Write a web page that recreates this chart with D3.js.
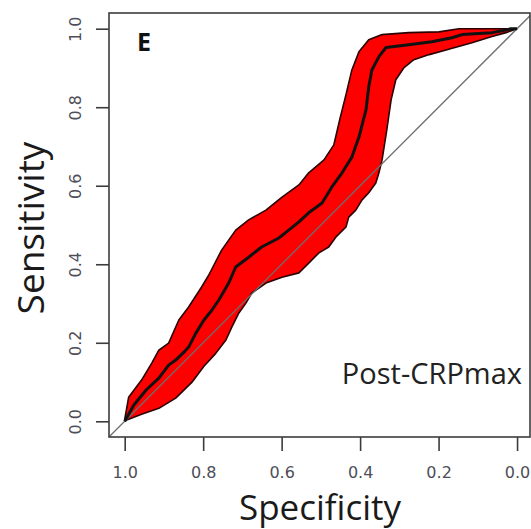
<!DOCTYPE html>
<html>
<head>
<meta charset="utf-8">
<script src="https://cdn.jsdelivr.net/npm/d3@7"></script>
<style>
  html, body { margin: 0; padding: 0; background: #fff; }
  svg { display: block; }
</style>
</head>
<body>
<svg id="chart" width="531" height="529"></svg>
<script>
// ---- Data ----
const rocSpec = [1, 0.997, 0.977, 0.946, 0.913, 0.888, 0.870, 0.849, 0.837, 0.819, 0.798, 0.778, 0.760, 0.735, 0.717, 0.684, 0.651, 0.607, 0.582, 0.556, 0.531, 0.497, 0.472, 0.446, 0.421, 0.403, 0.385, 0.378, 0.370, 0.352, 0.334, 0.276, 0.217, 0.166, 0.140, 0.064, 0.038, 0.015, 0];
const rocSens = [0, 0.005, 0.041, 0.079, 0.110, 0.143, 0.156, 0.176, 0.189, 0.224, 0.258, 0.283, 0.309, 0.352, 0.393, 0.418, 0.444, 0.467, 0.487, 0.508, 0.531, 0.556, 0.597, 0.633, 0.673, 0.724, 0.793, 0.852, 0.895, 0.929, 0.952, 0.959, 0.967, 0.977, 0.985, 0.990, 0.995, 1, 1];

const ciUpperSpec = [1, 0.990, 0.957, 0.931, 0.913, 0.888, 0.862, 0.837, 0.804, 0.786, 0.753, 0.717, 0.684, 0.640, 0.599, 0.556, 0.531, 0.492, 0.467, 0.452, 0.436, 0.421, 0.403, 0.378, 0.344, 0.276, 0.199, 0.148, 0.046, 0];
const ciUpperSens = [0.005, 0.061, 0.105, 0.148, 0.181, 0.199, 0.258, 0.291, 0.342, 0.372, 0.436, 0.487, 0.513, 0.538, 0.571, 0.602, 0.633, 0.666, 0.704, 0.768, 0.832, 0.895, 0.941, 0.972, 0.985, 0.990, 0.992, 1, 1, 1];

const ciLowerSpec = [1, 0.995, 0.957, 0.913, 0.870, 0.829, 0.798, 0.768, 0.742, 0.727, 0.709, 0.691, 0.676, 0.640, 0.599, 0.556, 0.531, 0.505, 0.480, 0.462, 0.436, 0.429, 0.411, 0.395, 0.378, 0.360, 0.352, 0.344, 0.332, 0.321, 0.309, 0.288, 0.263, 0.224, 0.181, 0.115, 0.064, 0.028, 0];
const ciLowerSens = [0, 0.003, 0.018, 0.033, 0.059, 0.099, 0.140, 0.173, 0.207, 0.240, 0.276, 0.301, 0.327, 0.352, 0.367, 0.378, 0.403, 0.429, 0.444, 0.469, 0.495, 0.520, 0.538, 0.564, 0.582, 0.607, 0.633, 0.666, 0.742, 0.819, 0.870, 0.901, 0.921, 0.934, 0.946, 0.964, 0.980, 0.990, 1];

const xTicks = [1.0, 0.8, 0.6, 0.4, 0.2, 0.0];
const yTicks = [0.0, 0.2, 0.4, 0.6, 0.8, 1.0];
const xTitle = "Specificity";
const yTitle = "Sensitivity";
const panelLabel = "E";
const markerLabel = "Post-CRPmax";

// ---- Layout ----
const svg = d3.select("#chart");
const box = { left: 109, right: 530, top: 13, bottom: 437 };

const x = d3.scaleLinear().domain([1.04, -0.033]).range([box.left, box.right]);
const y = d3.scaleLinear().domain([-0.04, 1.04]).range([box.bottom, box.top]);

svg.append("defs").append("clipPath").attr("id", "plotclip")
  .append("rect")
  .attr("x", box.left).attr("y", box.top)
  .attr("width", box.right - box.left).attr("height", box.bottom - box.top);

const plot = svg.append("g").attr("clip-path", "url(#plotclip)");

// Confidence band polygon
const upper = ciUpperSpec.map((s, i) => [s, ciUpperSens[i]]);
const lower = ciLowerSpec.map((s, i) => [s, ciLowerSens[i]]);
const bandPts = upper.concat(lower.slice().reverse());
const lineGen = d3.line().x(d => x(d[0])).y(d => y(d[1]));

plot.append("path")
  .attr("d", lineGen(bandPts) + "Z")
  .attr("fill", "#ff0000")
  .attr("stroke", "#2a0000")
  .attr("stroke-width", 1.6)
  .attr("stroke-linejoin", "round");

// Diagonal reference line
plot.append("line")
  .attr("x1", x(1.04)).attr("y1", y(-0.04))
  .attr("x2", x(-0.04)).attr("y2", y(1.04))
  .attr("stroke", "#6e6e6e")
  .attr("stroke-width", 1.3);

// ROC curve
const roc = rocSpec.map((s, i) => [s, rocSens[i]]);
plot.append("path")
  .attr("d", lineGen(roc))
  .attr("fill", "none")
  .attr("stroke", "#111")
  .attr("stroke-width", 3)
  .attr("stroke-linejoin", "round");

// Frame
svg.append("rect")
  .attr("x", box.left).attr("y", box.top)
  .attr("width", box.right - box.left).attr("height", box.bottom - box.top)
  .attr("fill", "none")
  .attr("stroke", "#3c3c3c")
  .attr("stroke-width", 1.6);

// Axes
const fmt = d3.format(".1f");
const xAxis = svg.append("g")
  .attr("transform", `translate(0,${box.bottom})`)
  .call(d3.axisBottom(x).tickValues(xTicks).tickFormat(fmt).tickSize(14).tickSizeOuter(0));
const yAxis = svg.append("g")
  .attr("transform", `translate(${box.left},0)`)
  .call(d3.axisLeft(y).tickValues(yTicks).tickFormat(fmt).tickSize(13).tickSizeOuter(0));

[xAxis, yAxis].forEach(g => {
  g.select(".domain").remove();
  g.selectAll(".tick line").attr("stroke", "#3c3c3c").attr("stroke-width", 1.6);
  g.selectAll(".tick text")
    .attr("fill", "#4e4e58")
    .attr("font-family", "'DejaVu Sans', sans-serif")
    .attr("font-size", 16);
});
xAxis.selectAll(".tick text").attr("y", 41).attr("dy", 0);
yAxis.selectAll(".tick text")
  .attr("transform", "rotate(-90)")
  .attr("x", 0).attr("y", -28).attr("dy", 0)
  .attr("text-anchor", "middle");

// Axis titles
svg.append("text")
  .attr("x", 320).attr("y", 520)
  .attr("text-anchor", "middle")
  .attr("font-family", "'Open Sans', sans-serif")
  .attr("font-size", 35)
  .attr("fill", "#1a1a1a")
  .text(xTitle);

svg.append("text")
  .attr("transform", `translate(44,${228}) rotate(-90)`)
  .attr("text-anchor", "middle")
  .attr("font-family", "'Open Sans', sans-serif")
  .attr("font-size", 37)
  .attr("fill", "#1a1a1a")
  .text(yTitle);

// Panel label and annotation
svg.append("text")
  .attr("x", 137).attr("y", 51)
  .attr("font-family", "'Open Sans', sans-serif")
  .attr("font-weight", "bold")
  .attr("font-size", 25)
  .attr("fill", "#111")
  .text(panelLabel);

svg.append("text")
  .attr("x", 522).attr("y", 384)
  .attr("text-anchor", "end")
  .attr("font-family", "'Open Sans', sans-serif")
  .attr("font-size", 29)
  .attr("fill", "#222")
  .text(markerLabel);
</script>
</body>
</html>
